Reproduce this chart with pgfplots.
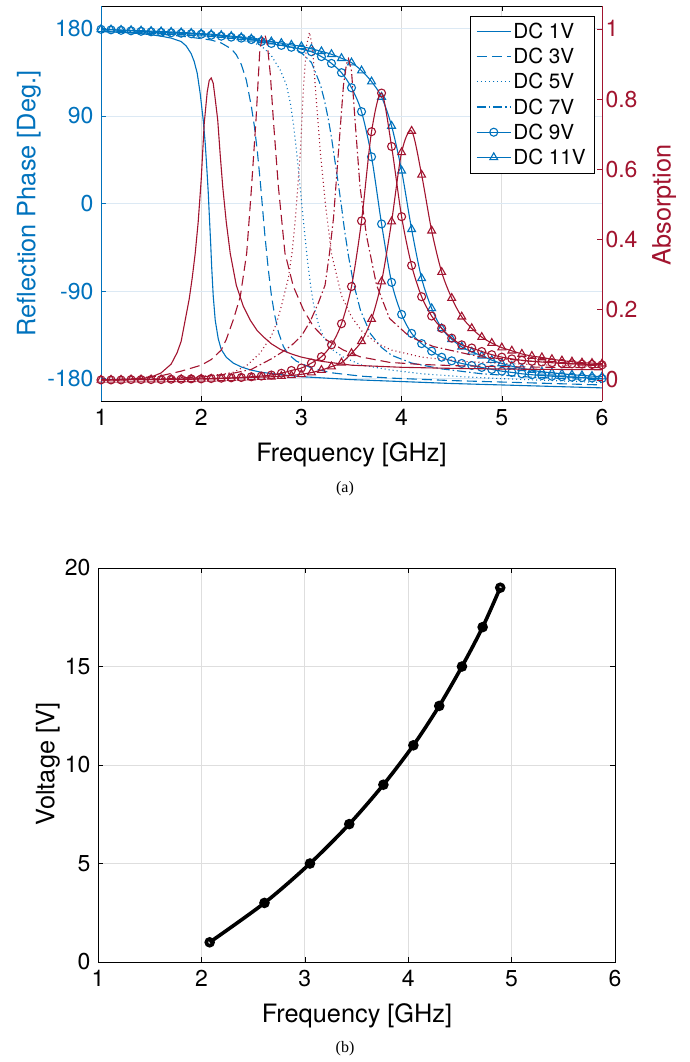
\documentclass[border=0pt]{standalone}
\usepackage{fontspec}
\setmainfont{TeX Gyre Heros}
\newfontfamily\capfont{Liberation Serif}
\usepackage{pgfplots}
\pgfplotsset{compat=1.18}
\definecolor{mblue}{RGB}{0,114,189}
\definecolor{mred}{RGB}{162,20,47}
\definecolor{gridgray}{RGB}{222,222,222}
\definecolor{gridblue}{RGB}{220,233,244}
\newcommand{\tickfont}{\fontsize{23}{26}\selectfont}
\newcommand{\labfont}{\fontsize{25.3}{28}\selectfont}
\begin{document}
\begin{tikzpicture}
\path[use as bounding box] (0pt,0pt) rectangle (689pt,-1062pt);
% ---------------- top: phase (left axis) ----------------
\begin{axis}[
  at={(101pt,-401pt)}, anchor=south west,
  width=501pt, height=395pt, scale only axis,
  xmin=1, xmax=6, ymin=-203, ymax=203,
  xtick={1,2,3,4,5,6}, xticklabels={1,2,3,4,5,6},
  ytick={-180,-90,0,90,180}, yticklabels={-180,-90,0,90,180},
  axis y line*=left,
  xmajorgrids, ymajorgrids,
  x grid style={color=gridgray, line width=0.7pt},
  y grid style={color=gridblue, line width=0.7pt},
  tick align=inside, major tick length=5pt,
  xtick style={black, line width=0.6pt},
  ytick style={mblue, line width=0.6pt},
  x axis line style={black, line width=0.8pt},
  y axis line style={mblue, line width=0.8pt},
  xticklabel style={black, font=\tickfont, yshift=-5pt},
  yticklabel style={mblue, font=\tickfont, xshift=-4pt},
  xlabel={Frequency [GHz]},
  xlabel style={font=\labfont, at={(axis description cs:0.5,-0.137)}, anchor=center},
  ylabel={Reflection Phase [Deg.]},
  ylabel style={mblue, font=\labfont, at={(axis description cs:-0.144,0.5)}, anchor=center},
  legend style={at={(0.984,0.975)}, anchor=north east, draw=black, fill=white,
    font=\fontsize{20.7}{24}\selectfont, inner xsep=6pt, inner ysep=5pt, row sep=4.2pt,
    cells={anchor=west}},
  legend image code/.code={\draw[mark repeat=2,mark phase=2,#1] plot coordinates {(0pt,0pt) (17pt,0pt) (34pt,0pt)};},
]
% DC 1V
\addplot[mblue, line width=1.1pt] coordinates {(1.0,177)(1.2,176)(1.4,174.5)(1.5,173.5)(1.6,172)(1.7,170)(1.8,166.5)(1.85,162)(1.9,154)(1.93,146)(1.96,134)(1.99,113)(2.02,86)(2.04,62)(2.055,38)(2.07,12)(2.08,-10)(2.095,-42)(2.105,-66)(2.12,-95)(2.14,-120)(2.17,-139)(2.2,-150)(2.25,-158)(2.32,-164)(2.4,-168)(2.49,-171)(2.6,-173.5)(2.8,-176)(3.0,-178)(3.5,-181)(4.0,-183)(4.5,-185)(5.0,-186.5)(5.5,-188)(6.0,-189.5)};
\addlegendentry{DC 1V}
% DC 3V
\addplot[mblue, line width=1.1pt, dash pattern=on 10pt off 5pt] coordinates {(1.0,177)(1.5,175)(1.8,172)(2.0,169.5)(2.1,168)(2.2,165)(2.3,159)(2.35,153)(2.4,143)(2.45,127)(2.5,100)(2.53,80)(2.56,54)(2.59,22)(2.61,-2)(2.635,-32)(2.67,-68)(2.7,-94)(2.73,-113)(2.77,-132)(2.82,-147)(2.87,-155)(2.95,-162)(3.1,-169)(3.3,-174)(3.6,-177.5)(3.9,-179.5)(4.5,-182)(5.0,-183.5)(5.5,-185)(6.0,-186.5)};
\addlegendentry{DC 3V}
% DC 5V
\addplot[mblue, line width=1.1pt, dash pattern=on 1pt off 3pt] coordinates {(1.0,177)(1.5,175.5)(2.0,172.5)(2.3,169.5)(2.5,166)(2.6,162)(2.7,152)(2.79,137)(2.85,122)(2.89,103)(2.92,82)(2.95,55)(2.98,25)(3.0,3)(3.03,-28)(3.06,-58)(3.09,-83)(3.12,-103)(3.17,-124)(3.22,-137)(3.32,-151)(3.42,-158)(3.6,-166)(3.88,-171)(4.2,-175)(4.6,-178)(5.0,-180)(5.5,-182)(6.0,-184)};
\addlegendentry{DC 5V}
% DC 7V
\addplot[mblue, line width=1.1pt, dash pattern=on 9pt off 3pt on 1.5pt off 3pt] coordinates {(1.0,177.5)(1.5,176)(2.0,174)(2.5,170.5)(2.8,164)(2.9,160.5)(3.0,155)(3.1,145)(3.19,122)(3.23,106)(3.27,86)(3.3,68)(3.34,40)(3.37,19)(3.40,-3)(3.43,-27)(3.47,-54)(3.52,-82)(3.59,-110)(3.69,-134)(3.8,-148)(3.9,-156)(4.1,-164)(4.4,-170)(4.8,-175)(5.3,-178.5)(6.0,-181.5)};
\addlegendentry{DC 7V}
% DC 9V
\addplot[mblue, line width=1.1pt, smooth, mark=o, mark size=4pt] coordinates {(1.0,179)(1.1,178.5)(1.2,178)(1.3,177.5)(1.4,177)(1.5,176.5)(1.6,176)(1.7,175.5)(1.8,175)(1.9,174.5)(2.0,174)(2.1,173)(2.2,172)(2.3,171)(2.4,170)(2.5,168.5)(2.6,166.5)(2.7,164.5)(2.8,162.5)(2.9,160.6)(3.0,158.6)(3.1,156)(3.2,151)(3.3,144)(3.4,134.5)(3.5,119)(3.6,94.4)(3.7,48)(3.8,-21)(3.9,-81)(4.0,-114)(4.1,-133.5)(4.2,-144)(4.3,-151.7)(4.4,-158)(4.5,-161.7)(4.6,-164.4)(4.7,-166.5)(4.8,-168.5)(4.9,-170.5)(5.0,-172.3)(5.1,-173.6)(5.2,-175)(5.3,-176)(5.4,-176.8)(5.5,-177.5)(5.6,-178)(5.7,-178.5)(5.8,-179)(5.9,-179.4)(6.0,-179.8)};
\addlegendentry{DC 9V}
% DC 11V
\addplot[mblue, line width=1.1pt, smooth, mark=triangle, mark size=4.5pt] coordinates {(1.0,179)(1.1,178.7)(1.2,178.3)(1.3,178)(1.4,177.6)(1.5,177.2)(1.6,176.8)(1.7,176.3)(1.8,175.8)(1.9,175.2)(2.0,174.6)(2.1,174)(2.2,173)(2.3,172)(2.4,170.8)(2.5,169.3)(2.6,167.5)(2.7,166.4)(2.8,164.8)(2.9,163)(3.0,161.5)(3.1,159)(3.2,156.3)(3.3,153.4)(3.4,149.3)(3.5,144.8)(3.6,136.6)(3.7,125.3)(3.8,109.5)(3.9,79.7)(4.0,33.7)(4.1,-26.5)(4.2,-77)(4.3,-107.8)(4.4,-128.4)(4.5,-139.5)(4.6,-147.3)(4.7,-152.5)(4.8,-156.5)(4.9,-161)(5.0,-164.4)(5.1,-167.2)(5.2,-169.5)(5.3,-171.3)(5.4,-173)(5.5,-174)(5.6,-175)(5.7,-176)(5.8,-176.7)(5.9,-177.4)(6.0,-178)};
\addlegendentry{DC 11V}
\end{axis}
% ---------------- top: absorption (right axis) ----------------
\begin{axis}[
  at={(101pt,-401pt)}, anchor=south west,
  width=501pt, height=395pt, scale only axis,
  xmin=1, xmax=6, ymin=-0.06, ymax=1.065,
  axis y line*=right, axis x line=none,
  ytick={0,0.2,0.4,0.6,0.8,1}, yticklabels={0,0.2,0.4,0.6,0.8,1},
  tick align=inside, major tick length=5pt,
  ytick style={mred, line width=0.6pt},
  y axis line style={mred, line width=0.8pt},
  yticklabel style={mred, font=\tickfont},
  ylabel={Absorption},
  ylabel style={mred, font=\labfont, at={(axis description cs:1.124,0.496)}, anchor=center, rotate=0},
]
% DC 1V
\addplot[mred, line width=1.1pt] coordinates {(1.0,0.000)(1.2,0.001)(1.4,0.004)(1.5,0.008)(1.6,0.020)(1.7,0.045)(1.76,0.078)(1.8,0.11)(1.84,0.17)(1.88,0.23)(1.91,0.29)(1.94,0.36)(1.97,0.45)(2.0,0.57)(2.03,0.73)(2.06,0.82)(2.08,0.853)(2.10,0.86)(2.12,0.845)(2.14,0.80)(2.165,0.74)(2.19,0.64)(2.215,0.55)(2.25,0.45)(2.29,0.36)(2.35,0.27)(2.42,0.21)(2.49,0.17)(2.56,0.14)(2.62,0.123)(2.7,0.103)(2.79,0.087)(2.9,0.074)(3.0,0.065)(3.2,0.053)(3.5,0.042)(4.0,0.036)(4.5,0.033)(5.0,0.031)(5.5,0.030)(6.0,0.029)};
% DC 3V
\addplot[mred, line width=1.1pt, dash pattern=on 10pt off 5pt] coordinates {(1.0,0.000)(1.3,0.003)(1.6,0.012)(1.8,0.025)(2.0,0.042)(2.1,0.058)(2.2,0.085)(2.25,0.115)(2.32,0.171)(2.39,0.237)(2.454,0.361)(2.5,0.54)(2.547,0.741)(2.585,0.94)(2.61,0.975)(2.635,0.985)(2.66,0.955)(2.69,0.87)(2.72,0.741)(2.77,0.551)(2.836,0.361)(2.92,0.266)(3.02,0.20)(3.12,0.152)(3.25,0.114)(3.42,0.085)(3.585,0.066)(3.88,0.05)(4.2,0.044)(4.6,0.040)(5.0,0.038)(5.5,0.036)(6.0,0.035)};
% DC 5V
\addplot[mred, line width=1.1pt, dash pattern=on 1pt off 3pt] coordinates {(1.0,0.000)(1.5,0.003)(2.0,0.010)(2.2,0.016)(2.32,0.022)(2.45,0.040)(2.587,0.076)(2.7,0.125)(2.75,0.16)(2.8,0.21)(2.87,0.29)(2.91,0.37)(2.94,0.46)(2.99,0.65)(3.02,0.83)(3.05,0.95)(3.08,0.99)(3.11,0.95)(3.14,0.83)(3.19,0.645)(3.24,0.50)(3.30,0.36)(3.40,0.24)(3.5,0.18)(3.6,0.14)(3.75,0.105)(3.9,0.085)(4.2,0.065)(4.6,0.053)(5.0,0.047)(5.5,0.042)(6.0,0.038)};
% DC 7V
\addplot[mred, line width=1.1pt, dash pattern=on 9pt off 3pt on 1.5pt off 3pt] coordinates {(1.0,0.000)(1.5,0.002)(2.0,0.008)(2.3,0.018)(2.5,0.030)(2.6,0.045)(2.7,0.060)(2.8,0.078)(2.9,0.098)(3.0,0.125)(3.09,0.168)(3.17,0.22)(3.236,0.27)(3.28,0.36)(3.32,0.46)(3.37,0.65)(3.42,0.84)(3.45,0.90)(3.47,0.915)(3.50,0.88)(3.535,0.74)(3.585,0.55)(3.65,0.41)(3.75,0.27)(3.88,0.175)(4.08,0.123)(4.32,0.095)(4.78,0.066)(5.3,0.053)(6.0,0.044)};
% DC 9V
\addplot[mred, line width=1.1pt, smooth, mark=o, mark size=4pt] coordinates {(1.0,0.000)(1.1,0.000)(1.2,0.000)(1.3,0.001)(1.4,0.001)(1.5,0.001)(1.6,0.001)(1.7,0.002)(1.8,0.002)(1.9,0.003)(2.0,0.003)(2.1,0.004)(2.2,0.005)(2.3,0.006)(2.4,0.007)(2.5,0.009)(2.6,0.011)(2.7,0.014)(2.8,0.019)(2.9,0.027)(3.0,0.034)(3.1,0.048)(3.2,0.066)(3.3,0.100)(3.4,0.160)(3.5,0.266)(3.6,0.453)(3.7,0.707)(3.8,0.817)(3.9,0.665)(4.0,0.465)(4.1,0.326)(4.2,0.237)(4.3,0.182)(4.4,0.147)(4.5,0.119)(4.6,0.100)(4.7,0.091)(4.8,0.081)(4.9,0.072)(5.0,0.065)(5.1,0.060)(5.2,0.056)(5.3,0.053)(5.4,0.051)(5.5,0.049)(5.6,0.047)(5.7,0.046)(5.8,0.045)(5.9,0.044)(6.0,0.043)};
% DC 11V
\addplot[mred, line width=1.1pt, smooth, mark=triangle, mark size=4.5pt] coordinates {(1.0,0.000)(1.1,0.000)(1.2,0.000)(1.3,0.001)(1.4,0.001)(1.5,0.001)(1.6,0.001)(1.7,0.002)(1.8,0.002)(1.9,0.002)(2.0,0.003)(2.1,0.003)(2.2,0.004)(2.3,0.005)(2.4,0.006)(2.5,0.007)(2.6,0.008)(2.7,0.009)(2.8,0.011)(2.9,0.013)(3.0,0.016)(3.1,0.021)(3.2,0.028)(3.3,0.038)(3.4,0.049)(3.5,0.076)(3.6,0.110)(3.7,0.173)(3.8,0.280)(3.9,0.451)(4.0,0.648)(4.1,0.709)(4.2,0.584)(4.3,0.425)(4.4,0.307)(4.5,0.233)(4.6,0.180)(4.7,0.147)(4.8,0.122)(4.9,0.105)(5.0,0.092)(5.1,0.083)(5.2,0.074)(5.3,0.068)(5.4,0.064)(5.5,0.059)(5.6,0.055)(5.7,0.052)(5.8,0.049)(5.9,0.048)(6.0,0.046)};
\end{axis}
\node[font=\capfont\fontsize{16}{18}\selectfont] at (345pt,-489pt) {(a)};
% ---------------- bottom: voltage vs frequency ----------------
\begin{axis}[
  at={(98pt,-962pt)}, anchor=south west,
  width=517pt, height=394pt, scale only axis,
  xmin=1, xmax=6, ymin=0, ymax=20,
  xtick={1,2,3,4,5,6}, xticklabels={1,2,3,4,5,6},
  ytick={0,5,10,15,20}, yticklabels={0,5,10,15,20},
  xmajorgrids, ymajorgrids,
  grid style={color=gridgray, line width=0.7pt},
  tick align=inside, major tick length=5pt,
  tick style={black, line width=0.6pt},
  axis line style={black, line width=0.8pt},
  xticklabel style={font=\tickfont, yshift=-5pt},
  yticklabel style={font=\tickfont, xshift=-4pt},
  xlabel={Frequency [GHz]},
  xlabel style={font=\labfont, at={(axis description cs:0.501,-0.137)}, anchor=center},
  ylabel={Voltage [V]},
  ylabel style={font=\labfont, at={(axis description cs:-0.097,0.5025)}, anchor=center},
]
\addplot[black, line width=3.6pt, smooth, mark=o, mark size=3.4pt] coordinates {(2.08,1)(2.61,3)(3.05,5)(3.43,7)(3.76,9)(4.05,11)(4.30,13)(4.52,15)(4.72,17)(4.89,19)};
\end{axis}
\node[font=\capfont\fontsize{16}{18}\selectfont] at (345pt,-1049pt) {(b)};
\end{tikzpicture}
\end{document}
